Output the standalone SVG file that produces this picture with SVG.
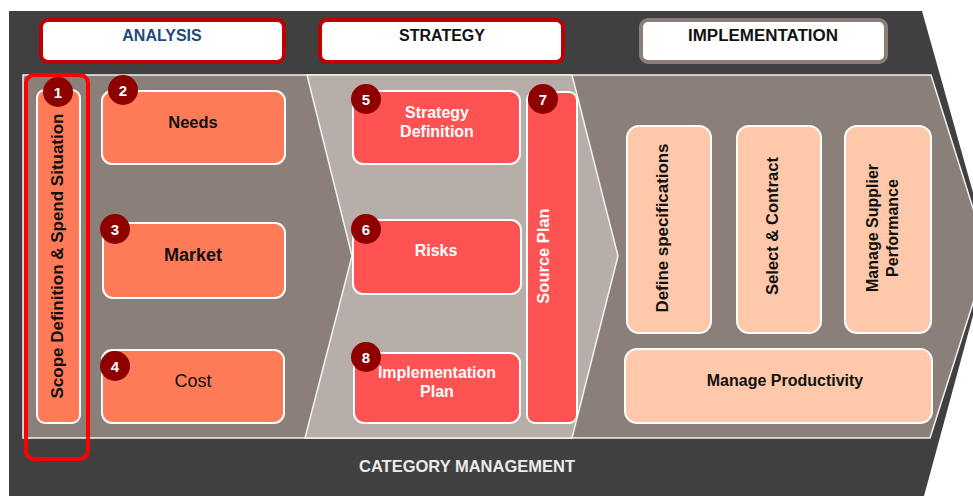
<svg xmlns="http://www.w3.org/2000/svg" width="973" height="496" viewBox="0 0 973 496">
  <style>
    text { font-family: "Liberation Sans", Arial, sans-serif; font-weight: bold; text-anchor: middle; }
    .hdr { fill: #ffffff; stroke-width: 4; }
    .coral { fill: #ff7b58; stroke: #ffffff; stroke-width: 2; }
    .red { fill: #ff5252; stroke: #ffffff; stroke-width: 2; }
    .peach { fill: #ffc8aa; stroke: #ffffff; stroke-width: 2; }
    .dark { fill: #111111; font-size: 16px; }
    .light { fill: #ffffff; font-size: 16px; }
    .badge circle { fill: #8e0000; }
    .badge text { fill: #ffffff; font-size: 15px; }
  </style>

  <!-- outer dark arrow band -->
  <polygon points="9,11 922,11 990,253 924,496 9,496" fill="#404040"/>

  <!-- inner brown chevron -->
  <polygon points="23,75 931,75 988,256 930,438 23,438" fill="#8b7f79" stroke="#f2f2f2" stroke-width="1.5"/>

  <!-- strategy band -->
  <polygon points="307,75 572,75 618,256 572,438 305,438 352,256" fill="#b8aea9" stroke="#f2f2f2" stroke-width="1.5"/>

  <!-- phase headers -->
  <g id="hdr-analysis">
    <rect class="hdr" x="41" y="20" width="243" height="42" rx="7" stroke="#c00000"/>
    <text x="162" y="41" style="fill:#1f497d;font-size:16px">ANALYSIS</text>
  </g>
  <g id="hdr-strategy">
    <rect class="hdr" x="320" y="20" width="243" height="42" rx="7" stroke="#c00000"/>
    <text x="442" y="41" style="fill:#111111;font-size:16px">STRATEGY</text>
  </g>
  <g id="hdr-implementation">
    <rect class="hdr" x="641" y="20" width="245" height="42" rx="7" stroke="#8b7d77"/>
    <text x="763" y="41" style="fill:#111111;font-size:16px" textLength="150" lengthAdjust="spacingAndGlyphs">IMPLEMENTATION</text>
  </g>

  <!-- analysis nodes -->
  <g id="n1-scope">
    <rect class="coral" x="37" y="90" width="43" height="333" rx="8"/>
    <text class="dark" transform="translate(63,256) rotate(-90)" style="font-size:16.5px" textLength="285" lengthAdjust="spacingAndGlyphs">Scope Definition &amp; Spend Situation</text>
  </g>
  <g id="n2-needs">
    <rect class="coral" x="102" y="91" width="183" height="73" rx="10"/>
    <text class="dark" x="193" y="128" style="font-size:16.5px">Needs</text>
  </g>
  <g id="n3-market">
    <rect class="coral" x="103" y="223" width="182" height="75" rx="10"/>
    <text class="dark" x="193" y="261" style="font-size:18px">Market</text>
  </g>
  <g id="n4-cost">
    <rect class="coral" x="102" y="350" width="182" height="73" rx="10"/>
    <text class="dark" x="193" y="387" style="font-size:18px;font-weight:normal">Cost</text>
  </g>

  <!-- strategy nodes -->
  <g id="n5-strategy-definition">
    <rect class="red" x="353" y="91" width="167" height="73" rx="10"/>
    <text class="light" x="437" y="118">Strategy</text>
    <text class="light" x="437" y="137">Definition</text>
  </g>
  <g id="n6-risks">
    <rect class="red" x="353" y="220" width="168" height="74" rx="10"/>
    <text class="light" x="436" y="256">Risks</text>
  </g>
  <g id="n7-source-plan">
    <rect class="red" x="527" y="92" width="50" height="331" rx="8"/>
    <text class="light" transform="translate(549,256) rotate(-90)" style="font-size:16.5px">Source Plan</text>
  </g>
  <g id="n8-implementation-plan">
    <rect class="red" x="354" y="353" width="166" height="70" rx="10"/>
    <text class="light" x="437" y="378">Implementation</text>
    <text class="light" x="437" y="397">Plan</text>
  </g>

  <!-- implementation nodes -->
  <g id="i1-define">
    <rect class="peach" x="627" y="126" width="84" height="207" rx="12"/>
    <text class="dark" transform="translate(668,228) rotate(-90)" textLength="169" lengthAdjust="spacingAndGlyphs">Define specifications</text>
  </g>
  <g id="i2-select">
    <rect class="peach" x="737" y="126" width="84" height="207" rx="12"/>
    <text class="dark" transform="translate(778,226) rotate(-90)" textLength="138" lengthAdjust="spacingAndGlyphs">Select &amp; Contract</text>
  </g>
  <g id="i3-supplier">
    <rect class="peach" x="845" y="126" width="86" height="207" rx="12"/>
    <text class="dark" transform="translate(878,228) rotate(-90)">Manage Supplier</text>
    <text class="dark" transform="translate(898,228) rotate(-90)">Performance</text>
  </g>
  <g id="i4-productivity">
    <rect class="peach" x="625" y="349" width="307" height="74" rx="12"/>
    <text class="dark" x="785" y="386">Manage Productivity</text>
  </g>

  <!-- step numbers -->
  <g id="badges" class="badge">
    <circle cx="58" cy="92" r="15"/><text x="58" y="98">1</text>
    <circle cx="123" cy="90" r="15"/><text x="123" y="96">2</text>
    <circle cx="115" cy="229" r="15"/><text x="115" y="235">3</text>
    <circle cx="115" cy="366" r="15"/><text x="115" y="372">4</text>
    <circle cx="366" cy="99" r="15"/><text x="366" y="105">5</text>
    <circle cx="366" cy="229" r="15"/><text x="366" y="235">6</text>
    <circle cx="543" cy="99" r="15"/><text x="543" y="105">7</text>
    <circle cx="366" cy="357" r="15"/><text x="366" y="363">8</text>
  </g>

  <!-- highlight frame around step 1 -->
  <rect x="26" y="75" width="62" height="384" rx="8" fill="none" stroke="#ff0000" stroke-width="4"/>

  <!-- footer caption -->
  <text x="467" y="472" style="fill:#ececec;font-size:16.5px">CATEGORY MANAGEMENT</text>
</svg>
